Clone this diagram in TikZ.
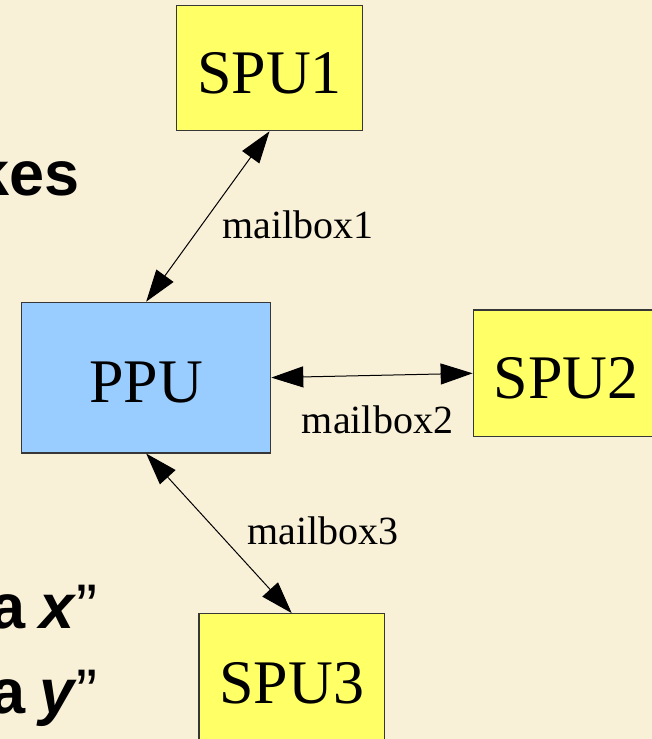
\documentclass[tikz,border=0pt]{standalone}
\usepackage{fontspec}
\setmainfont{Liberation Serif}
\setsansfont{Liberation Sans}
\usetikzlibrary{arrows.meta}
\definecolor{parch}{RGB}{249,240,216}
\definecolor{spuyellow}{RGB}{255,255,102}
\definecolor{ppublue}{RGB}{153,204,255}
\definecolor{boxline}{RGB}{55,55,55}
\tikzset{
  unitbox/.style={draw=boxline, line width=1.2pt, rectangle, inner sep=0pt,
    font=\fontsize{62}{70}\selectfont, text height=50pt, text depth=0pt},
  spubox/.style={unitbox, fill=spuyellow, minimum width=185.5pt},
  ppubox/.style={unitbox, fill=ppublue, minimum width=249pt, minimum height=150.7pt},
  mlabel/.style={font=\fontsize{40}{46}\selectfont, anchor=base west, inner sep=0pt},
  slide/.style={font=\sffamily\bfseries\fontsize{63}{72}\selectfont, inner sep=0pt},
  mailarrow/.style={line width=1pt, {Triangle[length=32pt,width=21pt]}-{Triangle[length=32pt,width=21pt]}}
}
\begin{document}
\begin{tikzpicture}[x=1pt,y=-1pt]
\useasboundingbox (0,0) rectangle (652,739);
\clip (0,0) rectangle (652,739);
\fill[parch] (0,0) rectangle (652,739);
% slide text fragments
\node[slide, anchor=base east] (t1) at (80,195) {kes};
\node[slide, anchor=base west] (t2) at (-10,628) {a\hspace{14pt}\textit{x}\mdseries”};
\node[slide, anchor=base west] (t3) at (-10,713) {a\hspace{14pt}\textit{y}\mdseries”};
% boxes
\node[ppubox] (ppu) at (146.2,377.6) {PPU};
\node[spubox, minimum height=125.4pt] (spu1) at (269.5,68) {SPU1};
\node[spubox, minimum height=126.7pt] (spu2) at (566,373.3) {SPU2};
\node[spubox, minimum height=130pt] (spu3) at (291.7,678.7) {SPU3};
% connectors
\draw[mailarrow] (ppu.north) -- (spu1.south);
\draw[mailarrow] (ppu.east) -- (spu2.west);
\draw[mailarrow] (ppu.south) -- (spu3.north);
% labels
\node[mlabel] (m1) at (222.3,238.3) {mailbox1};
\node[mlabel] (m2) at (301.7,433.3) {mailbox2};
\node[mlabel] (m3) at (247.3,544.3) {mailbox3};
\end{tikzpicture}
\end{document}
